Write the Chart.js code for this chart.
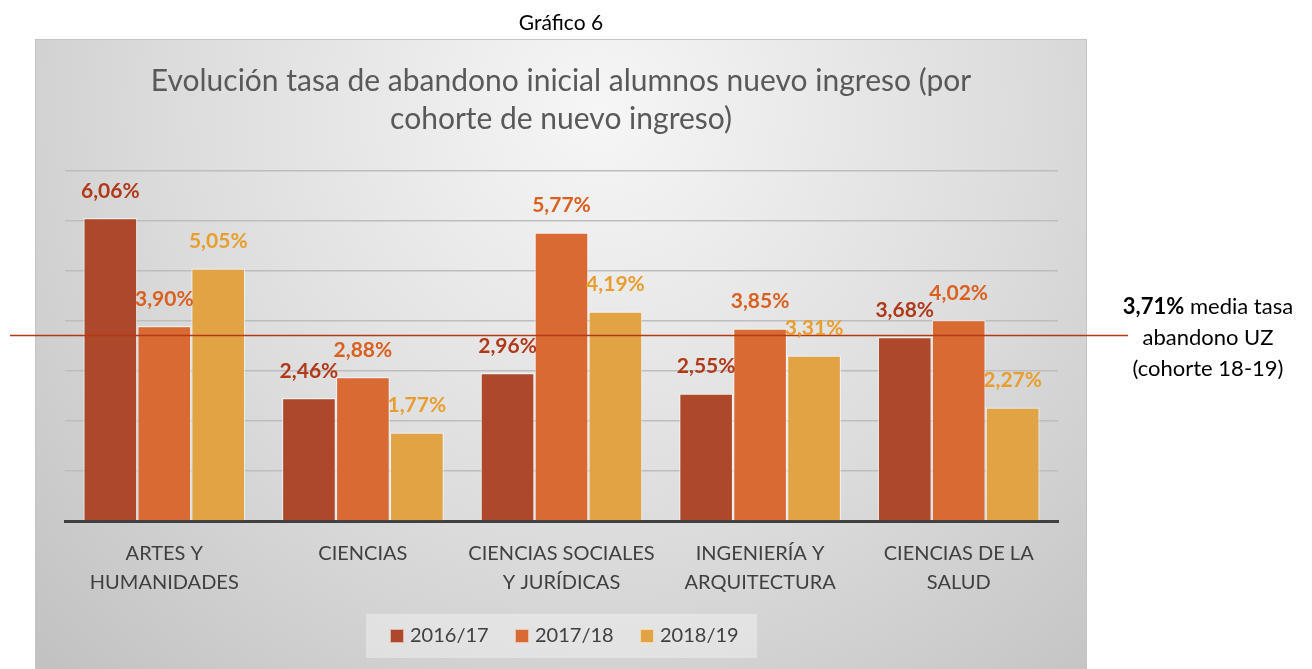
<!DOCTYPE html>
<html>
<head>
<meta charset="utf-8">
<script src="https://cdn.jsdelivr.net/npm/chart.js@4"></script>
<style>
  html, body { margin: 0; padding: 0; background: #fff; }
  body { width: 1312px; height: 669px; position: relative; overflow: hidden; font-family: Lato, sans-serif; }
  #c { position: absolute; left: 0; top: 0; }
  #fig { position: absolute; left: 461px; width: 200px; top: 10px; line-height: 24px; text-align: center; font-size: 21px; color: #000; }
  #note { position: absolute; left: 1108px; width: 200px; top: 290px; text-align: center; font-size: 22px; line-height: 31px; color: #000; }
</style>
</head>
<body>
<canvas id="c" width="1312" height="669"></canvas>
<div id="fig">Gráfico 6</div>
<div id="note"><b>3,71%</b> media tasa<br>abandono UZ<br>(cohorte 18-19)</div>
<script>
// datos del gráfico
const categorias = [['ARTES Y', 'HUMANIDADES'], 'CIENCIAS', ['CIENCIAS SOCIALES', 'Y JURÍDICAS'], ['INGENIERÍA Y', 'ARQUITECTURA'], ['CIENCIAS DE LA', 'SALUD']];
const cursos = ['2016/17', '2017/18', '2018/19'];
const tasa1617 = [6.06, 2.46, 2.96, 2.55, 3.68];
const tasa1718 = [3.90, 2.88, 5.77, 3.85, 4.02];
const tasa1819 = [5.05, 1.77, 4.19, 3.31, 2.27];
const mediaUZ = [3.71];

const coloresBarra = ['#AD482B', '#D96A33', '#E1A343'];
const coloresTexto = ['#B0391A', '#D9601F', '#E89E2E'];

const titulo = ['Evolución tasa de abandono inicial alumnos nuevo ingreso (por', 'cohorte de nuevo ingreso)'];

const fmt = v => v.toFixed(2).replace('.', ',') + '%';

// fondo gris con degradado + titulo
const fondo = {
  id: 'fondo',
  beforeDraw(chart) {
    const ctx = chart.ctx;
    ctx.save();
    ctx.fillStyle = '#fff';
    ctx.fillRect(0, 0, chart.width, chart.height);
    const g = ctx.createRadialGradient(600, 110, 0, 600, 110, 780);
    g.addColorStop(0, '#f6f6f6');
    g.addColorStop(0.55, '#dcdcdc');
    g.addColorStop(1, '#c2c2c2');
    ctx.fillStyle = g;
    ctx.fillRect(35, 39, 1052, 640);
    ctx.strokeStyle = '#c4c4c4';
    ctx.lineWidth = 1;
    ctx.strokeRect(35.5, 39.5, 1051, 640);
    ctx.fillStyle = '#595959';
    ctx.font = '30px Lato';
    ctx.textAlign = 'center';
    ctx.textBaseline = 'middle';
    titulo.forEach((t, i) => ctx.fillText(t, 561, 81 + i * 38));
    ctx.restore();
  }
};

// linea media + etiquetas + leyenda
const extras = {
  id: 'extras',
  afterDatasetsDraw(chart) {
    const ctx = chart.ctx;
    ctx.save();
    const y = chart.scales.y.getPixelForValue(mediaUZ[0]);
    ctx.strokeStyle = '#B23A17';
    ctx.lineWidth = 1.5;
    ctx.beginPath();
    ctx.moveTo(10, y);
    ctx.lineTo(1128, y);
    ctx.stroke();

    ctx.font = 'bold 21px Lato';
    ctx.textAlign = 'center';
    ctx.textBaseline = 'middle';
    chart.data.datasets.forEach((ds, i) => {
      chart.getDatasetMeta(i).data.forEach((bar, j) => {
        ctx.fillStyle = coloresTexto[i];
        ctx.fillText(fmt(ds.data[j]), bar.x, bar.y - 27);
      });
    });

    // leyenda
    ctx.fillStyle = 'rgba(255,255,255,0.35)';
    ctx.fillRect(366, 614, 391, 44);
    ctx.font = '20px Lato';
    ctx.textAlign = 'left';
    chart.data.datasets.forEach((ds, i) => {
      const x = 390 + i * 125;
      ctx.fillStyle = coloresBarra[i];
      ctx.fillRect(x, 629, 14, 14);
      ctx.strokeStyle = 'rgba(255,255,255,0.6)';
      ctx.lineWidth = 1;
      ctx.strokeRect(x + 0.5, 629.5, 13, 13);
      ctx.fillStyle = '#404040';
      ctx.fillText(ds.label, x + 20, 636);
    });
    ctx.restore();
  }
};

new Chart(document.getElementById('c'), {
  type: 'bar',
  data: {
    labels: categorias,
    datasets: [
      { label: cursos[0], data: tasa1617, backgroundColor: coloresBarra[0] },
      { label: cursos[1], data: tasa1718, backgroundColor: coloresBarra[1] },
      { label: cursos[2], data: tasa1819, backgroundColor: coloresBarra[2] }
    ].map(d => ({ ...d, borderColor: 'rgba(255,255,255,0.55)', borderWidth: 1.2, categoryPercentage: 0.815, barPercentage: 1 }))
  },
  options: {
    responsive: false,
    animation: false,
    devicePixelRatio: 1,
    layout: { padding: { left: 65, right: 254, top: 171, bottom: 0 } },
    plugins: { legend: { display: false }, tooltip: { enabled: false } },
    scales: {
      x: {
        afterFit: s => { s.height = 148; },
        grid: { display: false, drawTicks: false },
        border: { color: '#404040', width: 3 },
        ticks: { color: '#404040', font: { family: 'Lato', size: 20, lineHeight: 1.45 }, padding: 18, maxRotation: 0, autoSkip: false }
      },
      y: {
        min: 0, max: 7,
        afterFit: s => { s.width = 0; },
        ticks: { display: false, stepSize: 1 },
        grid: { color: '#bdbdbd', lineWidth: 1.5, drawTicks: false },
        border: { display: false }
      }
    }
  },
  plugins: [fondo, extras]
});
</script>
</body>
</html>
